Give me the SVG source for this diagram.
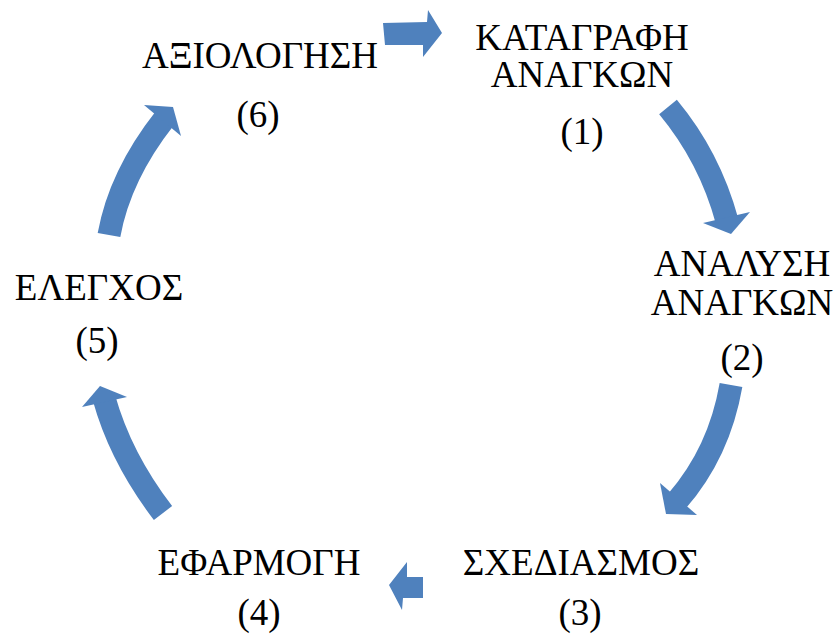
<svg xmlns="http://www.w3.org/2000/svg" width="837" height="639" viewBox="0 0 837 639">
<style>
text{font-family:'Liberation Serif','Times New Roman',serif;font-size:37px;fill:#000;text-anchor:middle}
.sh{fill:none;stroke:#4F81BD;stroke-width:23;stroke-linecap:butt}
.hd{fill:#4F81BD}
</style>
<rect width="837" height="639" fill="#fff"/>
<g id="connectors">
<polygon class="hd" points="383,23 427,22 428,10 442,33 423,57 423,45 385,45"/>
<path class="sh" d="M668,107 Q709.6,157 727,221"/>
<polygon class="hd" points="703,223 750,212 731,234"/>
<path class="sh" d="M731,385 Q719.3,452.4 677,501"/>
<polygon class="hd" points="660,483 697,515 666,514"/>
<polygon class="hd" points="423,577 407,577 407,562 389,585 402,610 403,598 423,598"/>
<path class="sh" d="M163,513 Q120.6,457.6 104,398"/>
<polygon class="hd" points="82,407 100,386 127,397"/>
<path class="sh" d="M109,235 Q119.9,175.2 165,118"/>
<polygon class="hd" points="144,105 173,107 181,136"/>
</g>
<g id="node1"><text x="582" y="50">ΚΑΤΑΓΡΑΦΗ</text><text x="582" y="87">ΑΝΑΓΚΩΝ</text><text x="582" y="144">(1)</text></g>
<g id="node2"><text x="742" y="276">ΑΝΑΛΥΣΗ</text><text x="742" y="315">ΑΝΑΓΚΩΝ</text><text x="742" y="370">(2)</text></g>
<g id="node3"><text x="581" y="575">ΣΧΕΔΙΑΣΜΟΣ</text><text x="580" y="625">(3)</text></g>
<g id="node4"><text x="259" y="575">ΕΦΑΡΜΟΓΗ</text><text x="259" y="625">(4)</text></g>
<g id="node5"><text x="99" y="300">ΕΛΕΓΧΟΣ</text><text x="97" y="353">(5)</text></g>
<g id="node6"><text x="260" y="68">ΑΞΙΟΛΟΓΗΣΗ</text><text x="258" y="127">(6)</text></g>
</svg>
